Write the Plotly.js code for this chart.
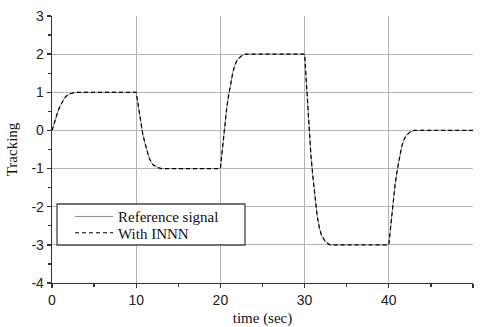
<!DOCTYPE html>
<html>
<head>
<meta charset="utf-8">
<script src="https://cdn.plot.ly/plotly-3.0.1.min.js"></script>
<style>html,body{margin:0;padding:0;background:#fff;}#chart{width:480px;height:327px;}</style>
</head>
<body>
<div id="chart"></div>
<script>
// time samples (sec)
var time = [0, 0.25, 0.5, 0.75, 1, 1.25, 1.5, 1.75, 2, 2.5, 3,
            10, 10.25, 10.5, 10.75, 11, 11.25, 11.5, 11.75, 12, 12.5, 13,
            20, 20.25, 20.5, 20.75, 21, 21.25, 21.5, 21.75, 22, 22.5, 23,
            30, 30.25, 30.5, 30.75, 31, 31.25, 31.5, 31.75, 32, 32.5, 33,
            40, 40.25, 40.5, 40.75, 41, 41.25, 41.5, 41.75, 42, 42.5, 43,
            50];
// Reference signal
var referenceSignal = [0, 0.2, 0.38, 0.53, 0.65, 0.76, 0.85, 0.91, 0.95, 0.985, 1,
            1, 0.6, 0.24, -0.06, -0.3, -0.52, -0.7, -0.82, -0.9, -0.97, -1,
            -1, -0.4, 0.14, 0.59, 0.95, 1.28, 1.55, 1.73, 1.85, 1.955, 2,
            2, 1.0, 0.1, -0.65, -1.25, -1.8, -2.25, -2.55, -2.75, -2.925, -3,
            -3, -2.4, -1.86, -1.41, -1.05, -0.72, -0.45, -0.27, -0.15, -0.045, 0,
            0];
// With INNN
var withINNN = [0, 0.2, 0.38, 0.53, 0.65, 0.76, 0.85, 0.91, 0.95, 0.985, 1,
            1, 0.6, 0.24, -0.06, -0.3, -0.52, -0.7, -0.82, -0.9, -0.97, -1,
            -1, -0.4, 0.14, 0.59, 0.95, 1.28, 1.55, 1.73, 1.85, 1.955, 2,
            2, 1.0, 0.1, -0.65, -1.25, -1.8, -2.25, -2.55, -2.75, -2.925, -3,
            -3, -2.4, -1.86, -1.41, -1.05, -0.72, -0.45, -0.27, -0.15, -0.045, 0,
            0];
var xTicks = [0, 10, 20, 30, 40, 50];
var yTicks = [-4, -3, -2, -1, 0, 1, 2, 3];
var xGrid = [10, 20, 30, 40];
var yGrid = [-3, -2, -1, 0, 1, 2];

var serif = 'Liberation Serif, Times New Roman, serif';

var traces = [
  {x: time, y: referenceSignal, type: 'scatter', mode: 'lines', name: 'Reference signal',
   line: {color: '#8c8c8c', width: 1}, legend: 'legend'},
  {x: time, y: withINNN, type: 'scatter', mode: 'lines', name: 'With INNN',
   line: {color: '#000000', width: 1.2, dash: '4px,3px'}, legend: 'legend2'},
  {x: [], y: [], xaxis: 'x2', yaxis: 'y2', type: 'scatter', mode: 'lines',
   showlegend: false, hoverinfo: 'skip'}
];

var axisCommon = {
  showline: true, linecolor: '#333', linewidth: 1.3,
  ticks: 'outside', ticklen: 4, tickcolor: '#333', tickwidth: 1.3,
  showgrid: false, zeroline: false, mirror: false,
  tickfont: {family: 'Liberation Sans, Arial, sans-serif', size: 14, color: '#222'}
};
var gridCommon = {
  showgrid: true, gridcolor: '#b4b4b4', gridwidth: 1,
  showline: false, ticks: '', showticklabels: false, zeroline: false
};

var legendCommon = {
  xanchor: 'left', yanchor: 'middle', bgcolor: 'rgba(0,0,0,0)', borderwidth: 0,
  font: {family: serif, size: 15, color: '#111'}, itemwidth: 38
};

var layout = {
  width: 480, height: 327,
  margin: {l: 52, r: 7, t: 16, b: 44},
  paper_bgcolor: '#fff', plot_bgcolor: '#fff',
  showlegend: true,
  legend: Object.assign({}, legendCommon, {x: 0.0428, y: 0.2483}),
  legend2: Object.assign({}, legendCommon, {x: 0.0428, y: 0.1873}),
  shapes: [{type: 'rect', xref: 'paper', yref: 'paper', x0: 0.0119, x1: 0.4584, y0: 0.1423, y1: 0.2959,
            fillcolor: '#fff', line: {color: '#444', width: 1.3}, layer: 'above'}],
  xaxis: Object.assign({}, axisCommon, {
    range: [0, 50], tickvals: xTicks, ticktext: xTicks.map(String),
    minor: {dtick: 5, tick0: 0, ticks: 'outside', ticklen: 3, tickcolor: '#333', showgrid: false},
    title: {text: 'time (sec)', standoff: 6, font: {family: serif, size: 15, color: '#111'}}
  }),
  yaxis: Object.assign({}, axisCommon, {
    range: [-4, 3], tickvals: yTicks, ticktext: yTicks.map(String),
    minor: {dtick: 0.5, tick0: 0, ticks: 'outside', ticklen: 3, tickcolor: '#333', showgrid: false},
    title: {text: 'Tracking', standoff: 10, font: {family: serif, size: 15, color: '#111'}}
  }),
  xaxis2: Object.assign({}, gridCommon, {overlaying: 'x', anchor: 'y2', range: [0, 50], tickvals: xGrid}),
  yaxis2: Object.assign({}, gridCommon, {overlaying: 'y', anchor: 'x2', range: [-4, 3], tickvals: yGrid})
};

Plotly.newPlot('chart', traces, layout, {displayModeBar: false, staticPlot: true});
</script>
</body>
</html>
